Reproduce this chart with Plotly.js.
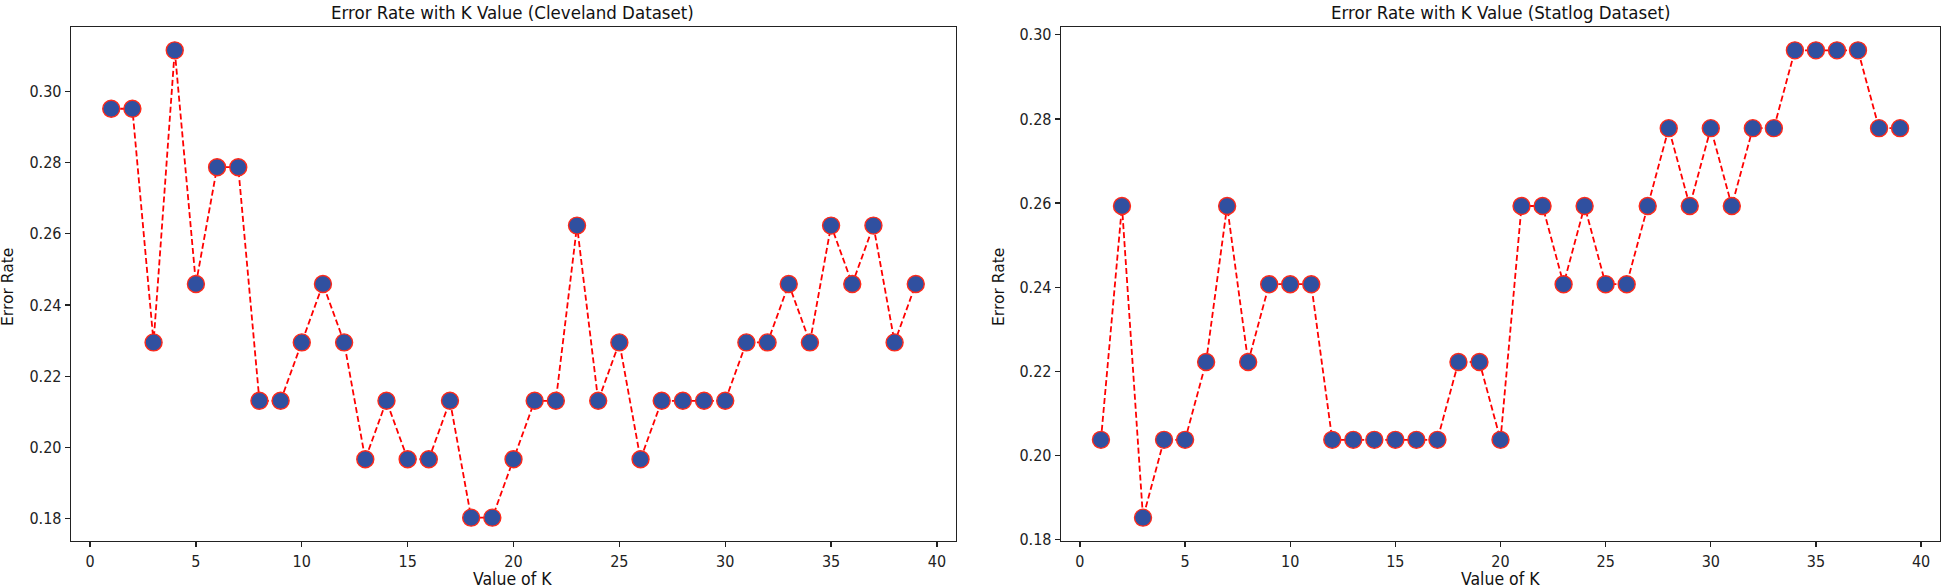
<!DOCTYPE html>
<html>
<head>
<meta charset="utf-8">
<script src="https://cdn.plot.ly/plotly-3.0.1.min.js"></script>
<style>
  html, body { margin: 0; padding: 0; background: #ffffff; }
  #chart { width: 1943px; height: 588px; }
</style>
</head>
<body>
<div id="chart"></div>
<script>
// K values tried for both datasets
var kValues = [];
for (let k = 1; k <= 39; k++) {
    kValues.push(k);
}

// Error rate for each K (Cleveland dataset)
var clevelandError = [
    0.2951, 0.2951, 0.2295, 0.3115, 0.2459, 0.2787, 0.2787, 0.2131, 0.2131, 0.2295,
    0.2459, 0.2295, 0.1967, 0.2131, 0.1967, 0.1967, 0.2131, 0.1803, 0.1803, 0.1967,
    0.2131, 0.2131, 0.2623, 0.2131, 0.2295, 0.1967, 0.2131, 0.2131, 0.2131, 0.2131,
    0.2295, 0.2295, 0.2459, 0.2295, 0.2623, 0.2459, 0.2623, 0.2295, 0.2459
];

// Error rate for each K (Statlog dataset)
var statlogError = [
    0.2037, 0.2593, 0.1852, 0.2037, 0.2037, 0.2222, 0.2593, 0.2222, 0.2407, 0.2407,
    0.2407, 0.2037, 0.2037, 0.2037, 0.2037, 0.2037, 0.2037, 0.2222, 0.2222, 0.2037,
    0.2593, 0.2593, 0.2407, 0.2593, 0.2407, 0.2407, 0.2593, 0.2778, 0.2593, 0.2778,
    0.2593, 0.2778, 0.2778, 0.2963, 0.2963, 0.2963, 0.2963, 0.2778, 0.2778
];

var titles = [
    "Error Rate with K Value (Cleveland Dataset)",
    "Error Rate with K Value (Statlog Dataset)"
];

// matplotlib-like 5% padding around the data
function paddedRange(values) {
    var lo = Math.min.apply(null, values);
    var hi = Math.max.apply(null, values);
    var pad = (hi - lo) * 0.05;
    return [lo - pad, hi + pad];
}

var condensed = '"DejaVu Sans Condensed", "Liberation Sans Narrow", "DejaVu Sans", sans-serif';
var plain = '"DejaVu Sans", sans-serif';

function makeTrace(y, xa, ya) {
    return {
        x: kValues,
        y: y,
        xaxis: xa,
        yaxis: ya,
        type: 'scatter',
        mode: 'lines+markers',
        line: { color: '#ff0000', width: 1.8, dash: '6px,3px' },
        marker: {
            size: 17,
            color: '#3050a0',
            line: { color: '#ff2a1a', width: 1.4 }
        },
        hoverinfo: 'x+y',
        showlegend: false
    };
}

var data = [
    makeTrace(clevelandError, 'x', 'y'),
    makeTrace(statlogError, 'x2', 'y2')
];

function xAxis(domain, anchor) {
    return {
        domain: domain,
        anchor: anchor,
        range: paddedRange(kValues),
        tick0: 0,
        dtick: 5,
        ticks: 'outside',
        ticklen: 5,
        tickwidth: 1.2,
        tickcolor: '#222',
        showline: true,
        linecolor: '#222',
        linewidth: 1.3,
        mirror: true,
        showgrid: false,
        zeroline: false,
        tickfont: { family: condensed, size: 16, color: '#222' }
    };
}

function yAxis(domain, anchor, values) {
    return {
        domain: domain,
        anchor: anchor,
        range: paddedRange(values),
        tick0: 0,
        dtick: 0.02,
        tickformat: '.2f',
        ticks: 'outside',
        ticklen: 5,
        tickwidth: 1.2,
        tickcolor: '#222',
        showline: true,
        linecolor: '#222',
        linewidth: 1.3,
        mirror: true,
        showgrid: false,
        zeroline: false,
        tickfont: { family: condensed, size: 16, color: '#222' }
    };
}

var yDomain = [1 - 541 / 588, 1 - 27 / 588];

var annotations = [
    { text: titles[0], x: 512 / 1943, y: 1 - 12 / 588, font: { family: condensed, size: 18.5, color: '#111' } },
    { text: titles[1], x: 1500 / 1943, y: 1 - 12 / 588, font: { family: condensed, size: 18.5, color: '#111' } },
    { text: 'Value of K', x: 512 / 1943, y: 1 - 579 / 588, font: { family: condensed, size: 17.5, color: '#111' } },
    { text: 'Value of K', x: 1500 / 1943, y: 1 - 579 / 588, font: { family: condensed, size: 17.5, color: '#111' } },
    { text: 'Error Rate', x: 8 / 1943, y: 1 - 287 / 588, textangle: -90, font: { family: plain, size: 15.5, color: '#111' } },
    { text: 'Error Rate', x: 999 / 1943, y: 1 - 287 / 588, textangle: -90, font: { family: plain, size: 15.5, color: '#111' } }
].map(function(a) {
    a.xref = 'paper';
    a.yref = 'paper';
    a.showarrow = false;
    a.xanchor = 'center';
    a.yanchor = 'middle';
    return a;
});

var layout = {
    width: 1943,
    height: 588,
    margin: { l: 0, r: 0, t: 0, b: 0 },
    paper_bgcolor: '#ffffff',
    plot_bgcolor: '#ffffff',
    xaxis: xAxis([71 / 1943, 956 / 1943], 'y'),
    yaxis: yAxis(yDomain, 'x', clevelandError),
    xaxis2: xAxis([1061 / 1943, 1940 / 1943], 'y2'),
    yaxis2: yAxis(yDomain, 'x2', statlogError),
    annotations: annotations
};

Plotly.newPlot('chart', data, layout, { displayModeBar: false, staticPlot: true });
</script>
</body>
</html>
